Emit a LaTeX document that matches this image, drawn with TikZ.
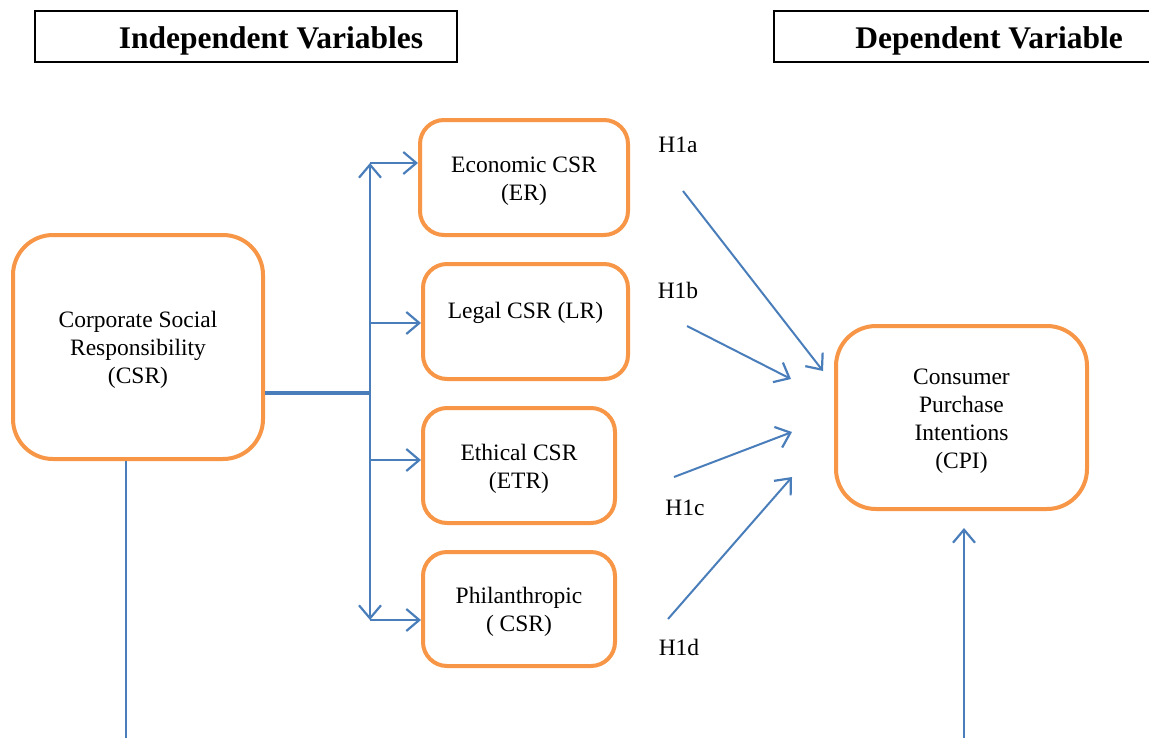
\documentclass[tikz,border=0pt]{standalone}
\usepackage{fontspec}
\setmainfont{Liberation Serif}
\usetikzlibrary{arrows.meta}
\definecolor{boxorange}{HTML}{F79646}
\definecolor{lineblue}{HTML}{4A7EBB}
\newcommand{\dropline}{\rule{0pt}{22pt}}
\tikzset{
  varbox/.style={draw=boxorange, line width=4pt, rounded corners=#1, inner sep=0pt, align=center, font=\fontsize{23.5}{28}\selectfont, fill=white},
  headbox/.style={draw=black, line width=1.6pt, inner sep=0pt},
  headtext/.style={font=\bfseries\fontsize{31.5}{36}\selectfont, inner sep=0pt},
  hlabel/.style={font=\fontsize{23.5}{28}\selectfont, inner sep=0pt},
  conn/.style={draw=lineblue, line width=2pt},
  arr/.style={conn, -{Straight Barb[length=13pt, width=22pt, line width=2.2pt]}},
  dblarr/.style={conn, {Straight Barb[length=13pt, width=22pt, line width=2.2pt]}-{Straight Barb[length=13pt, width=22pt, line width=2.2pt]}}
}
\begin{document}
\begin{tikzpicture}[x=1pt, y=-1pt]
\useasboundingbox (0,0) rectangle (1149,737);
\clip (0,0) rectangle (1149,737);
% headers
\node[headbox, minimum width=422pt, minimum height=51pt] (hindep) at (246,36.5) {};
\node[headtext] (tindep) at (271,41) {Independent Variables};
\node[headbox, minimum width=420pt, minimum height=51pt] (hdep) at (984,36.5) {};
\node[headtext] (tdep) at (989,41) {Dependent Variable};
% boxes
\node[varbox=40pt, minimum width=250pt, minimum height=224pt] (CSR) at (138,347) {\dropline Corporate Social\\Responsibility\\(CSR)};
\node[varbox=24pt, minimum width=208pt, minimum height=115pt] (ER) at (524,177.5) {\dropline Economic CSR\\(ER)};
\node[varbox=24pt, minimum width=205pt, minimum height=115pt] (LR) at (525.5,321.5) {\dropline Legal CSR (LR)\\\mbox{}};
\node[varbox=24pt, minimum width=192pt, minimum height=115pt] (ETR) at (519,465.5) {\dropline Ethical CSR\\(ETR)};
\node[varbox=24pt, minimum width=192pt, minimum height=114pt] (PR) at (519,609) {\dropline Philanthropic\\( CSR)};
\node[varbox=40pt, minimum width=251pt, minimum height=183pt] (CPI) at (961.5,417.5) {\dropline Consumer\\Purchase\\Intentions\\(CPI)};
% labels
\node[hlabel] (h1a) at (678,145) {H1a};
\node[hlabel] (h1b) at (678,290) {H1b};
\node[hlabel] (h1c) at (685,508) {H1c};
\node[hlabel] (h1d) at (679,647) {H1d};
% trunk
\coordinate (trunk) at (370,393);
\coordinate (vtop) at (370,163);
\coordinate (vbot) at (370,620);
\coordinate (bl) at (370,323);
\coordinate (bc) at (370,460);
\draw[conn, line width=4pt] (CSR.east |- trunk) -- (trunk);
\draw[dblarr] (vtop) -- (vbot);
\draw[arr] (vtop) -- (ER.west |- vtop);
\draw[arr] (bl) -- (LR.west |- bl);
\draw[arr] (bc) -- (ETR.west |- bc);
\draw[arr] (vbot) -- (PR.west |- vbot);
% hypotheses arrows
\coordinate (a1) at (683,191);
\coordinate (a2) at (823,371);
\coordinate (b1) at (687,326);
\coordinate (b2) at (791,379);
\coordinate (c1) at (674,477);
\coordinate (c2) at (792,432);
\coordinate (d1) at (668,619);
\coordinate (d2) at (792,477);
\draw[arr] (a1) -- (a2);
\draw[arr] (b1) -- (b2);
\draw[arr] (c1) -- (c2);
\draw[arr] (d1) -- (d2);
% bottom lines
\coordinate (csrdown) at (126,740);
\draw[conn, line width=1.8pt] (CSR.south -| csrdown) -- (csrdown);
\coordinate (cpiup) at (964,740);
\coordinate (cpitip) at (964,528);
\draw[arr] (cpiup) -- (cpitip);
\end{tikzpicture}
\end{document}
